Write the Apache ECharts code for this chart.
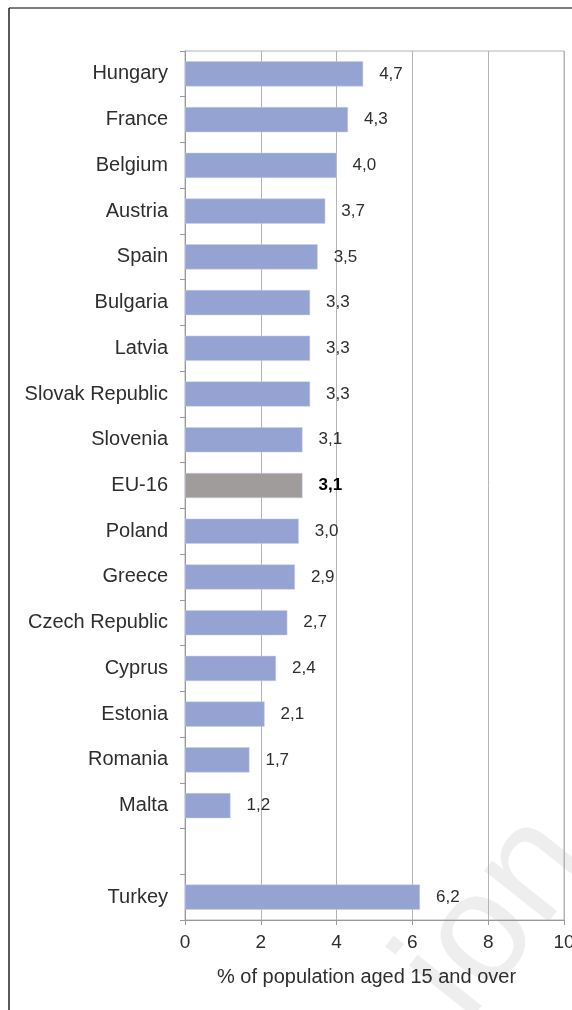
<!DOCTYPE html>
<html>
<head>
<meta charset="utf-8">
<script src="https://cdn.jsdelivr.net/npm/echarts@6/dist/echarts.min.js"></script>
<style>
    html, body { margin: 0; padding: 0; background: #fff; }
    #chart { width: 572px; height: 1010px; }
</style>
</head>
<body>
<div id="chart"></div>
<script>
// 国家 (top to bottom), '' is the gap row before Turkey
var countries = ['Hungary', 'France', 'Belgium', 'Austria', 'Spain', 'Bulgaria', 'Latvia',
    'Slovak Republic', 'Slovenia', 'EU-16', 'Poland', 'Greece', 'Czech Republic', 'Cyprus',
    'Estonia', 'Romania', 'Malta', '', 'Turkey'];
var values = [4.7, 4.3, 4.0, 3.7, 3.5, 3.3, 3.3, 3.3, 3.1, 3.1, 3.0, 2.9, 2.7, 2.4, 2.1, 1.7, 1.2, null, 6.2];
var xTicks = [0, 2, 4, 6, 8, 10];
var axisTitle = '% of population aged 15 and over';
var highlight = 'EU-16';

var barColor = '#95a3d3',
    avgColor = '#a09c9c',
    gridColor = '#b4b4b4',
    textColor = '#2e2e2e';

var chart = echarts.init(document.getElementById('chart'));

var barData = values.map(function (v, i) {
    if (v === null) return '-';
    var isAvg = countries[i] === highlight;
    return {
        value: v,
        itemStyle: { color: isAvg ? avgColor : barColor },
        label: isAvg ? { fontWeight: 'bold', color: '#000' } : undefined
    };
});

var option = {
    animation: false,
    backgroundColor: '#fff',
    grid: {
        left: 185,
        right: 8,
        top: 51,
        bottom: 90,
        outerBoundsMode: 'none',
        containLabel: false,
        show: true,
        borderColor: gridColor,
        borderWidth: 1
    },
    xAxis: {
        type: 'value',
        min: xTicks[0],
        max: xTicks[xTicks.length - 1],
        interval: 2,
        name: axisTitle,
        nameLocation: 'middle',
        nameGap: 47,
        nameTextStyle: { fontFamily: 'Liberation Sans', fontSize: 20, color: textColor, padding: [0, 16, 0, 0] },
        axisLine: { show: true, lineStyle: { color: '#999' } },
        axisTick: { show: true, length: 5, lineStyle: { color: '#999' } },
        axisLabel: { fontFamily: 'Liberation Sans', fontSize: 19, color: textColor, margin: 13 },
        splitLine: { show: true, lineStyle: { color: gridColor } }
    },
    yAxis: {
        type: 'category',
        data: countries,
        inverse: true,
        axisLine: { show: true, lineStyle: { color: '#999' } },
        axisTick: { show: true, length: 5, lineStyle: { color: '#999' } },
        axisLabel: { fontFamily: 'Liberation Sans', fontSize: 20, color: textColor, margin: 17 },
        splitLine: { show: false }
    },
    series: [{
        type: 'bar',
        data: barData,
        barWidth: '55%',
        itemStyle: { borderColor: '#c7cfe9', borderWidth: 0.5 },
        label: {
            show: true,
            position: 'right',
            distance: 16,
            fontFamily: 'Liberation Sans',
            fontSize: 17,
            color: textColor,
            formatter: function (p) {
                return p.value.toFixed(1).replace('.', ',');
            }
        }
    }],
    graphic: [
        // 水印
        {
            type: 'text',
            z: -10,
            x: 494, y: 1046,
            rotation: 0.9,
            style: {
                text: 'ion',
                font: '155px "Liberation Sans"',
                fill: '#eeeeee',
                textAlign: 'left',
                textVerticalAlign: 'bottom'
            }
        },
        // 外框
        { type: 'line', shape: { x1: 9, y1: 8, x2: 572, y2: 8 }, style: { stroke: '#555', lineWidth: 1.5 } },
        { type: 'line', shape: { x1: 9, y1: 8, x2: 9, y2: 1010 }, style: { stroke: '#222', lineWidth: 1.5 } }
    ]
};

chart.setOption(option);
</script>
</body>
</html>
